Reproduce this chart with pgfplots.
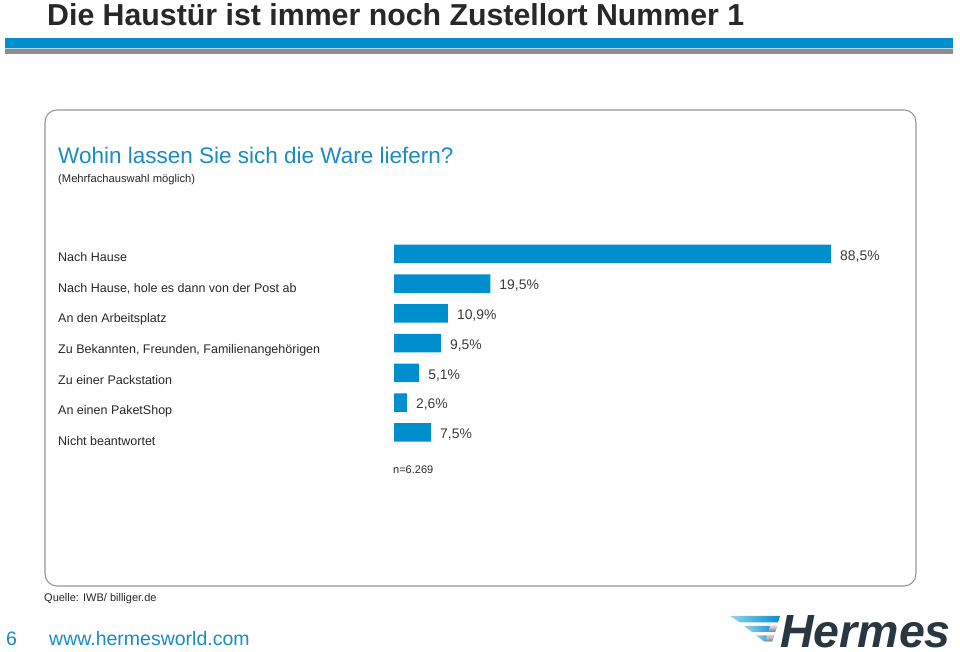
\documentclass[border=0pt]{standalone}
\usepackage{pgfplots}
\pgfplotsset{compat=1.18}
\usepackage{fontspec}
\setmainfont{Liberation Sans}
\definecolor{hblue}{RGB}{0,143,206}
\definecolor{qblue}{RGB}{26,140,196}
\definecolor{txt}{RGB}{40,40,40}
\definecolor{valtxt}{RGB}{60,60,60}
\definecolor{boxgray}{RGB}{150,150,150}
\definecolor{hgray}{RGB}{140,140,140}
\definecolor{logo}{RGB}{42,54,64}
\newcommand{\fs}[1]{\fontsize{#1}{#1}\selectfont}
\begin{document}
\begin{tikzpicture}[x=1pt,y=1pt]
\path[use as bounding box, fill=white] (0,0) rectangle (960,652);
% title
\node[anchor=base west, inner sep=0, font=\fs{30.3}\bfseries, text=txt] at (47,{652-25.5}) {Die Haustür ist immer noch Zustellort Nummer 1};
% header bars
\fill[hblue] (5,{652-38}) rectangle (953,{652-48});
\fill[hblue!30] (5,{652-48}) rectangle (953,{652-49.5});
\fill[hgray] (5,{652-49.5}) rectangle (953,{652-54});
% rounded box
\draw[boxgray, line width=1.1pt, rounded corners=12pt] (45,{652-110}) rectangle (916,{652-586});
% question
\node[anchor=base west, inner sep=0, font=\fs{22.5}, text=qblue] at (58,{652-163.5}) {Wohin lassen Sie sich die Ware liefern?};
\node[anchor=base west, inner sep=0, font=\fs{11.2}, text=txt] at (58,{652-182.5}) {(Mehrfachauswahl möglich)};
% category labels
\foreach \t [count=\i from 0] in {Nach Hause,{Nach Hause, hole es dann von der Post ab},An den Arbeitsplatz,{Zu Bekannten, Freunden, Familienangehörigen},Zu einer Packstation,An einen PaketShop,Nicht beantwortet}
  \node[anchor=base west, inner sep=0, font=\fs{12.5}, text=txt] at (58,{652-261.5-30.67*\i}) {\t};
% chart
\begin{axis}[
  at={(394pt,413pt)}, anchor=north west,
  scale only axis, width=493.8pt, height=208.25pt,
  xmin=0, xmax=100, ymin=-0.5, ymax=6.5, y dir=reverse,
  hide axis, xbar, bar width=18.3pt,
  point meta=explicit symbolic,
  nodes near coords,
  nodes near coords style={anchor=base west, inner sep=0pt, xshift=9pt, yshift=-6.3pt, font=\fs{13.9}, text=valtxt},
]
\addplot[fill=hblue, draw=none] coordinates {
  (88.5,0) [88,5\%]
  (19.5,1) [19,5\%]
  (10.9,2) [10,9\%]
  (9.5,3) [9,5\%]
  (5.1,4) [5,1\%]
  (2.6,5) [2,6\%]
  (7.5,6) [7,5\%]
};
\end{axis}
\node[anchor=base west, inner sep=0, font=\fs{11}, text=txt] at (393,{652-473.5}) {n=6.269};
% footer
\node[anchor=base west, inner sep=0, font=\fs{11}, text=txt] at (44,{652-601.5}) {Quelle: IWB/ billiger.de};
\node[anchor=base west, inner sep=0, font=\fs{19.5}, text=qblue] at (6,{652-645.5}) {6};
\node[anchor=base west, inner sep=0, font=\fs{19.5}, text=qblue] at (49,{652-645.5}) {www.hermesworld.com};
% logo
\node[anchor=base west, inner sep=0, text depth=0pt, font=\fs{46.5}\bfseries\itshape, text=logo] at (780,{652-647.5}) {Hermes};
\shade[left color=hblue!40, right color=hblue] (730,{652-616}) -- (780,{652-616}) -- (778,{652-622.5}) -- (740,{652-622.5}) -- cycle;
\shade[left color=hblue!40, right color=hblue] (744,{652-626}) -- (777,{652-626}) -- (775,{652-632}) -- (752,{652-632}) -- cycle;
\shade[left color=hblue!40, right color=hblue] (756,{652-635.5}) -- (774,{652-635.5}) -- (772,{652-641.5}) -- (764,{652-641.5}) -- cycle;
\shade[top color=gray!30, bottom color=gray] (770,{652-626}) -- (777,{652-626}) -- (775,{652-632}) -- (768,{652-632}) -- cycle;
\shade[top color=gray!30, bottom color=gray] (767,{652-635.5}) -- (774,{652-635.5}) -- (772,{652-641.5}) -- (765,{652-641.5}) -- cycle;
\end{tikzpicture}
\end{document}
